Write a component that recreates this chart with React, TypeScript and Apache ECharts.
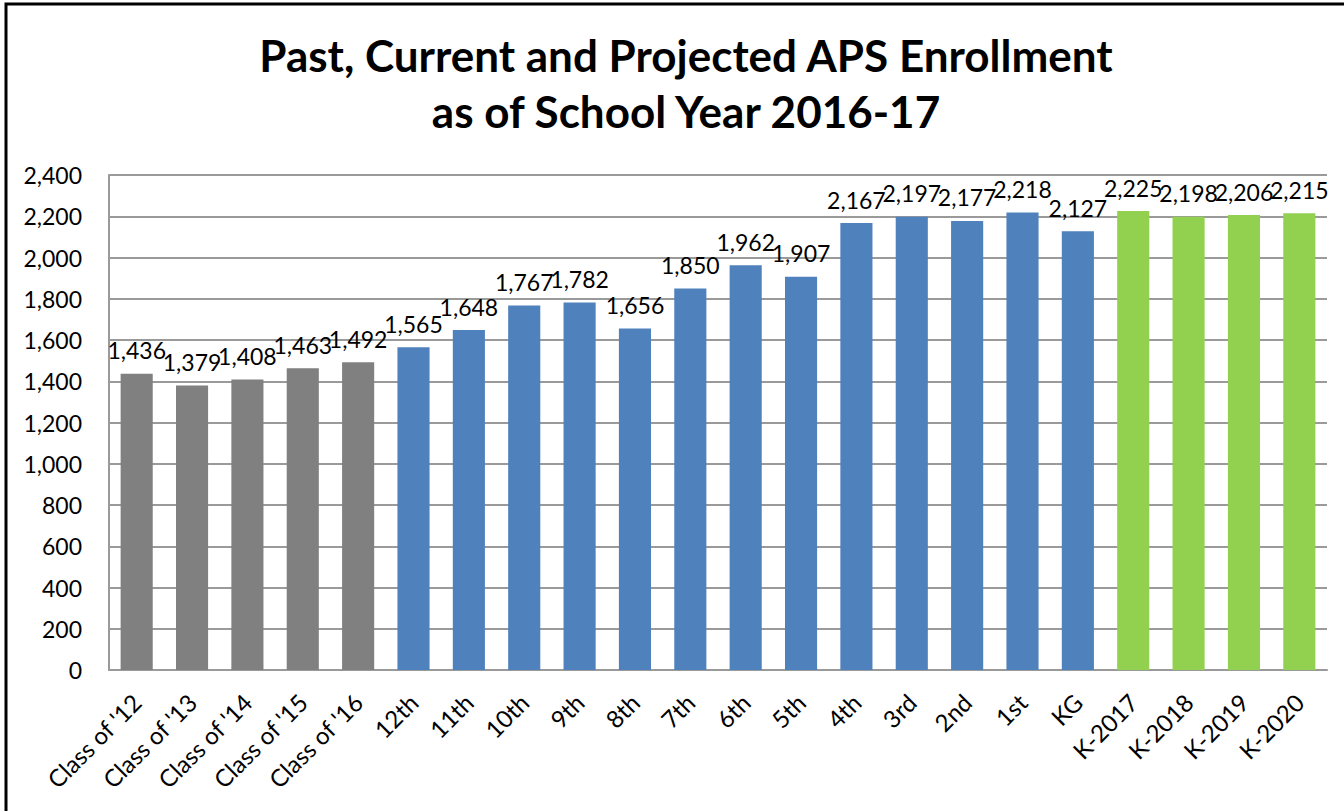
import React, { useEffect, useRef } from "react";
import * as echarts from "echarts";

const pastCategories = ["Class of '12", "Class of '13", "Class of '14", "Class of '15", "Class of '16"];
const pastValues = [1436, 1379, 1408, 1463, 1492];
const currentCategories = ["12th", "11th", "10th", "9th", "8th", "7th", "6th", "5th", "4th", "3rd", "2nd", "1st", "KG"];
const currentValues = [1565, 1648, 1767, 1782, 1656, 1850, 1962, 1907, 2167, 2197, 2177, 2218, 2127];
const projectedCategories = ["K-2017", "K-2018", "K-2019", "K-2020"];
const projectedValues = [2225, 2198, 2206, 2215];

const PAST_COLOR = "#808080";
const CURRENT_COLOR = "#4F81BD";
const PROJECTED_COLOR = "#92D050";
const FONT = "Lato, 'Noto Sans', sans-serif";

export default function App() {
  const ref = useRef<HTMLDivElement>(null);
  useEffect(() => {
    if (!ref.current) return;
    const chart = echarts.init(ref.current, null, { renderer: "svg" });
    const categories = [...pastCategories, ...currentCategories, ...projectedCategories];
    const data = [
      ...pastValues.map((v) => ({ value: v, itemStyle: { color: PAST_COLOR } })),
      ...currentValues.map((v) => ({ value: v, itemStyle: { color: CURRENT_COLOR } })),
      ...projectedValues.map((v) => ({ value: v, itemStyle: { color: PROJECTED_COLOR } })),
    ];
    chart.setOption({
      animation: false,
      backgroundColor: "#ffffff",
      textStyle: { fontFamily: FONT },
      title: {
        text: "Past, Current and Projected APS Enrollment\nas of School Year 2016-17",
        left: 681,
        top: 22,
        textAlign: "center",
        textStyle: {
          fontFamily: FONT,
          fontWeight: "bold",
          fontSize: 44,
          lineHeight: 56,
          color: "#000000",
        },
      },
      graphic: [
        {
          type: "rect",
          shape: { x: 6, y: 4, width: 1400, height: 900 },
          style: { fill: "none", stroke: "#000000", lineWidth: 3 },
          silent: true,
        },
      ],
      grid: { left: 109, right: 17, top: 175, bottom: 141, containLabel: false },
      xAxis: {
        type: "category",
        data: categories,
        axisLine: { show: true, lineStyle: { color: "#9a9a9a", width: 2 } },
        axisTick: { show: false },
        axisLabel: {
          rotate: 45,
          interval: 0,
          margin: 28,
          color: "#000000",
          fontSize: 24,
          fontFamily: FONT,
        },
      },
      yAxis: {
        type: "value",
        min: 0,
        max: 2400,
        interval: 200,
        axisLine: { show: true, lineStyle: { color: "#9a9a9a", width: 2 } },
        axisTick: { show: false },
        splitLine: { show: true, lineStyle: { color: "#9a9a9a", width: 2 } },
        axisLabel: {
          margin: 27,
          color: "#000000",
          fontSize: 23,
          fontFamily: FONT,
          formatter: (v: number) => v.toLocaleString("en-US"),
        },
      },
      series: [
        {
          type: "bar",
          data,
          barCategoryGap: "42%",
          label: {
            show: true,
            position: "top",
            distance: 12,
            color: "#000000",
            fontSize: 23,
            fontFamily: FONT,
            formatter: (p: any) => Number(p.value).toLocaleString("en-US"),
          },
        },
      ],
    });
    return () => chart.dispose();
  }, []);
  return (
    <div
      ref={ref}
      style={{ position: "fixed", left: 0, top: 0, width: 1344, height: 811 }}
    />
  );
}
